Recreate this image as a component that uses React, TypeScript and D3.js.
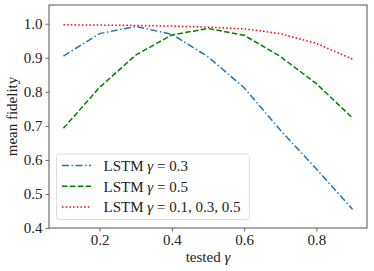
import * as d3 from "d3";
import { useEffect, useRef } from "react";

const testedGamma = [0.1, 0.2, 0.3, 0.4, 0.5, 0.6, 0.7, 0.8, 0.9];
const lstm03 = [0.905, 0.971, 0.992, 0.969, 0.903, 0.812, 0.688, 0.573, 0.455];
const lstm05 = [0.693, 0.813, 0.908, 0.967, 0.986, 0.966, 0.904, 0.824, 0.723];
const lstmMix = [0.997, 0.996, 0.995, 0.993, 0.99, 0.985, 0.971, 0.942, 0.896];

const xTicks = [0.2, 0.4, 0.6, 0.8];
const yTicks = [0.4, 0.5, 0.6, 0.7, 0.8, 0.9, 1.0];

const seriesList = [
    { label: "0.3", values: lstm03, color: "#1f77b4", dash: "7,2.5,1.5,2.5" },
    { label: "0.5", values: lstm05, color: "#008000", dash: "5.5,2.4" },
    { label: "0.1, 0.3, 0.5", values: lstmMix, color: "#ff0000", dash: "1.5,2.2" },
];

export default function App() {
    const ref = useRef<SVGSVGElement>(null);

    useEffect(() => {
        const width = 374;
        const height = 271;
        const margin = { top: 5, right: 7, bottom: 43, left: 49 };
        const font = "'Liberation Serif', serif";
        const fontSize = '15px';

        const svg = d3.select(ref.current)
            .attr('width', width)
            .attr('height', height);

        // Remove all old content upon loaded.
        svg.selectAll('*').remove();

        const x = d3.scaleLinear()
            .domain([0.06, 0.94])
            .range([margin.left, width - margin.right]);

        const y = d3.scaleLinear()
            .domain([0.4, 1.055])
            .range([height - margin.bottom, margin.top]);

        svg.append('rect')
            .attr('width', width)
            .attr('height', height)
            .attr('fill', '#fff');

        // Lines
        const line = d3.line<number>()
            .x((d, i) => x(testedGamma[i]))
            .y(d => y(d));

        svg.selectAll('.series')
            .data(seriesList)
            .join('path')
            .classed('series', true)
            .attr('d', d => line(d.values))
            .attr('fill', 'none')
            .attr('stroke', d => d.color)
            .attr('stroke-width', 1.5)
            .attr('stroke-dasharray', d => d.dash);

        // X axis
        const xAxis = svg.append('g')
            .attr('transform', `translate(0,${height - margin.bottom})`)
            .call(d3.axisBottom(x).tickValues(xTicks).tickFormat(d3.format('.1f')).tickSize(3.5).tickPadding(3));
        xAxis.select('.domain').remove();

        // Y axis
        const yAxis = svg.append('g')
            .attr('transform', `translate(${margin.left},0)`)
            .call(d3.axisLeft(y).tickValues(yTicks).tickFormat(d3.format('.1f')).tickSize(3.5).tickPadding(3));
        yAxis.select('.domain').remove();

        svg.selectAll('.tick line').attr('stroke', '#444').attr('stroke-width', 0.8);
        svg.selectAll('.tick text')
            .attr('fill', '#222')
            .style('font-family', font)
            .style('font-size', fontSize);

        // Frame
        svg.append('rect')
            .attr('x', margin.left)
            .attr('y', margin.top)
            .attr('width', width - margin.left - margin.right)
            .attr('height', height - margin.top - margin.bottom)
            .attr('fill', 'none')
            .attr('stroke', '#555')
            .attr('stroke-width', 1);

        // Axis labels
        const xl = svg.append('text')
            .attr('x', (margin.left + width - margin.right) / 2)
            .attr('y', 262)
            .attr('text-anchor', 'middle')
            .attr('fill', '#222')
            .style('font-family', font)
            .style('font-size', fontSize);
        xl.append('tspan').text('tested ');
        xl.append('tspan').attr('font-style', 'italic').text('γ');

        svg.append('text')
            .attr('transform', `translate(17,${(margin.top + height - margin.bottom) / 2}) rotate(-90)`)
            .attr('text-anchor', 'middle')
            .attr('fill', '#222')
            .style('font-family', font)
            .style('font-size', fontSize)
            .text('mean fidelity');

        // Legend
        const legend = svg.append('g');
        legend.append('rect')
            .attr('x', 56.5)
            .attr('y', 154)
            .attr('width', 193)
            .attr('height', 65.5)
            .attr('rx', 2.5)
            .attr('fill', 'rgba(255,255,255,0.8)')
            .attr('stroke', '#d6d6d6')
            .attr('stroke-width', 0.8);

        const items = legend.selectAll('.item')
            .data(seriesList)
            .join('g')
            .classed('item', true)
            .attr('transform', (d, i) => `translate(0,${165.5 + i * 20.8})`);

        items.append('line')
            .attr('x1', 62)
            .attr('x2', 91)
            .attr('stroke', d => d.color)
            .attr('stroke-width', 1.5)
            .attr('stroke-dasharray', d => d.dash);

        const labels = items.append('text')
            .attr('x', 103.5)
            .attr('dy', '0.35em')
            .attr('fill', '#222')
            .style('font-family', font)
            .style('font-size', fontSize);
        labels.append('tspan').text('LSTM ');
        labels.append('tspan').attr('font-style', 'italic').text('γ');
        labels.append('tspan').text(d => ' = ' + d.label);
    }, []);

    return (
        <svg ref={ref} style={{ position: 'absolute', left: 0, top: 0 }}></svg>
    );
}
